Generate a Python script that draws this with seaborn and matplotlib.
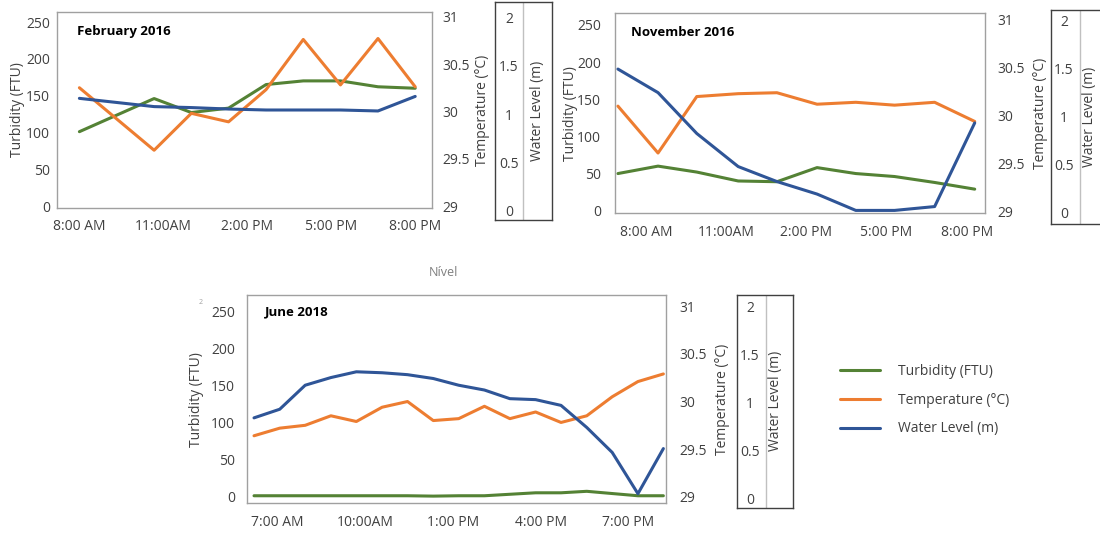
import numpy as np
import pandas as pd
import matplotlib
matplotlib.use("Agg")
import matplotlib.pyplot as plt
import seaborn as sns
from matplotlib.ticker import FuncFormatter

# ---------------- data ----------------
feb_hours = [8.0, 10.67, 12.0, 13.33, 14.67, 16.0, 17.33, 18.67, 20.0]
feb_turbidity = [101, 146, 127, 133, 165, 170, 170, 162, 160]
feb_temperature = [30.25, 29.59, 29.98, 29.89, 30.23, 30.76, 30.28, 30.77, 30.26]
feb_water_level = [1.16, 1.075, 1.065, 1.05, 1.04, 1.04, 1.04, 1.03, 1.18]

nov_hours = [6.95, 8.45, 9.9, 11.45, 12.9, 14.4, 15.85, 17.3, 18.8, 20.3]
nov_turbidity = [50, 60, 52, 40, 39, 58, 50, 46, 38, 29]
nov_temperature = [30.10, 29.61, 30.20, 30.23, 30.24, 30.12, 30.14, 30.11, 30.14, 29.94]
nov_water_level = [1.49, 1.245, 0.82, 0.476, 0.32, 0.19, 0.02, 0.02, 0.06, 0.93]

jun_hours = [6.2, 7.08, 7.95, 8.83, 9.7, 10.58, 11.45, 12.33, 13.2, 14.08,
             14.95, 15.83, 16.7, 17.58, 18.45, 19.33, 20.2]
jun_turbidity = [1, 1, 1, 1, 1, 1, 1, 0.5, 1, 1, 3, 5, 5, 7, 4, 1, 1]
jun_temperature = [29.64, 29.72, 29.75, 29.85, 29.79, 29.94, 30.0, 29.80, 29.82, 29.95,
                   29.82, 29.89, 29.78, 29.85, 30.05, 30.21, 30.29]
jun_water_level = [0.84, 0.93, 1.18, 1.26, 1.32, 1.31, 1.29, 1.25, 1.18, 1.13,
                   1.04, 1.03, 0.97, 0.74, 0.48, 0.05, 0.52]

ticks_a = [8, 11, 14, 17, 20]
labels_a = ["8:00 AM", "11:00AM", "2:00 PM", "5:00 PM", "8:00 PM"]
ticks_b = [7, 10, 13, 16, 19]
labels_b = ["7:00 AM", "10:00AM", "1:00 PM", "4:00 PM", "7:00 PM"]

turb_ticks = [0, 50, 100, 150, 200, 250]
temp_ticks = [29, 29.5, 30, 30.5, 31]
wl_ticks = [0, 0.5, 1, 1.5, 2]

series_names = ["Turbidity (FTU)", "Temperature (°C)", "Water Level (m)"]

# ---------------- style ----------------
sns.set_theme(style="white")
plt.rcParams["font.family"] = ["Open Sans", "DejaVu Sans"]
plt.rcParams["font.size"] = 10

GREEN = "#548235"
ORANGE = "#ED7D31"
BLUE = "#2F5597"
TXT = "#404040"
LW = 2.2

W, H = 1100, 537
fig = plt.figure(figsize=(W / 100, H / 100), dpi=100)
fig.patch.set_facecolor("white")


def px_axes(l, t, r, b):
    return fig.add_axes([l / W, 1 - b / H, (r - l) / W, (b - t) / H])


def pt(px):
    return px * 72 / 100


fmt = FuncFormatter(lambda v, p: f"{v:g}")


def draw_panel(hours, turb, temp, wl, xticks, xlabels, title, L):
    l, t, r, b = L["box"]
    ax = px_axes(l, t, r, b)
    df = pd.DataFrame({"hour": hours, "turb": turb, "temp": temp, "wl": wl})
    sns.lineplot(data=df, x="hour", y="turb", ax=ax, color=GREEN, lw=LW, label=series_names[0], legend=False)
    ax2 = ax.twinx()
    sns.lineplot(data=df, x="hour", y="temp", ax=ax2, color=ORANGE, lw=LW, label=series_names[1], legend=False)
    ax3 = ax.twinx()
    sns.lineplot(data=df, x="hour", y="wl", ax=ax3, color=BLUE, lw=LW, label=series_names[2], legend=False)

    ax.set_xlim(*L["xlim"])
    ax.set_ylim(*L["turb_lim"])
    ax2.set_ylim(*L["temp_lim"])
    ax3.set_ylim(*L["wl_lim"])

    ax.set_xticks(xticks)
    ax.set_xticklabels(xlabels)
    ax.set_yticks(turb_ticks)
    ax2.set_yticks(temp_ticks)
    ax2.yaxis.set_major_formatter(fmt)
    ax3.set_yticks([])
    ax.tick_params(axis="y", length=0, pad=pt(L["lpad"]), labelsize=10, labelcolor=TXT)
    ax.tick_params(axis="x", length=0, pad=pt(L["xpad"]), labelsize=10, labelcolor=TXT)
    ax2.tick_params(axis="y", length=0, pad=pt(L["rpad"]), labelsize=10, labelcolor=TXT)

    for s in ax.spines.values():
        s.set_color("#a0a0a0")
        s.set_linewidth(1.0)
    for a in (ax2, ax3):
        for s in a.spines.values():
            s.set_visible(False)
    ax.set_xlabel("")
    ax3.set_ylabel("")

    ax.set_ylabel(series_names[0], fontsize=10, color=TXT)
    ax.yaxis.set_label_coords((L["turb_lx"] - l) / (r - l), 0.5)
    ax.yaxis.label.set_va("center")
    ax2.set_ylabel(series_names[1], fontsize=10, color=TXT)
    ax2.yaxis.set_label_coords((L["temp_lx"] - l) / (r - l), 0.5)
    ax2.yaxis.label.set_va("center")

    fig.text(L["title"][0] / W, 1 - L["title"][1] / H, title, fontsize=9.5,
             fontweight="bold", color="black", ha="left", va="center")

    # separate water level scale box
    wl_, wt, wr, wb = L["wbox"]
    axw = px_axes(wl_, wt, wr, wb)
    axw.set_xlim(0, 1)
    axw.set_ylim(*L["wbox_lim"])
    axw.set_xticks([])
    axw.set_yticks(wl_ticks)
    axw.yaxis.set_major_formatter(fmt)
    axw.tick_params(axis="y", length=0, pad=-pt(L["wl_cx"] - wl_), labelsize=10, labelcolor=TXT)
    for tk in axw.yaxis.get_major_ticks():
        tk.label1.set_horizontalalignment("center")
    for s in axw.spines.values():
        s.set_color("#404040")
        s.set_linewidth(1.0)
    axw.axvline((L["winner"] - wl_) / (wr - wl_), color="#c0c0c0", lw=1.0)
    axw.set_ylabel(series_names[2], fontsize=10, color=TXT)
    axw.yaxis.set_label_coords((L["wl_lx"] - wl_) / (wr - wl_), 0.5)
    axw.yaxis.label.set_va("center")
    return ax, ax2, ax3


layout_feb = dict(box=(57, 12, 432, 208), xlim=(7.2, 20.6), turb_lim=(-2.7, 263.6),
                  temp_lim=(28.98, 31.05), wl_lim=(0.03, 2.05), lpad=7, rpad=10, xpad=11,
                  turb_lx=18, temp_lx=483, title=(77, 31),
                  wbox=(495, 2, 552, 220), wbox_lim=(-0.093, 2.155), winner=523,
                  wl_cx=509, wl_lx=537)
layout_nov = dict(box=(615, 13.3, 984.6, 213.3), xlim=(6.84, 20.67), turb_lim=(-3.5, 265.7),
                  temp_lim=(28.98, 31.07), wl_lim=(-0.01, 2.07), lpad=14, rpad=12.4, xpad=12,
                  turb_lx=571, temp_lx=1040, title=(631, 33),
                  wbox=(1051, 10, 1110, 224), wbox_lim=(-0.12, 2.104), winner=1080,
                  wl_cx=1064, wl_lx=1089)
layout_jun = dict(box=(246.7, 295, 666, 503.3), xlim=(5.95, 20.29), turb_lim=(-9.2, 272.3),
                  temp_lim=(28.93, 31.12), wl_lim=(-0.05, 2.12), lpad=11.7, rpad=13.3, xpad=12,
                  turb_lx=196, temp_lx=723, title=(265, 312),
                  wbox=(736.7, 295, 792.7, 507.7), wbox_lim=(-0.10, 2.12), winner=765.7,
                  wl_cx=750, wl_lx=775)

axes_feb = draw_panel(feb_hours, feb_turbidity, feb_temperature, feb_water_level,
                      ticks_a, labels_a, "February 2016", layout_feb)
draw_panel(nov_hours, nov_turbidity, nov_temperature, nov_water_level,
           ticks_a, labels_a, "November 2016", layout_nov)
draw_panel(jun_hours, jun_turbidity, jun_temperature, jun_water_level,
           ticks_b, labels_b, "June 2018", layout_jun)

# stray texts from the original figure
fig.text(443 / W, 1 - 272 / H, "Nível", fontsize=9, color="#7f7f7f", ha="center", va="center")
fig.text(201 / W, 1 - 302 / H, "2", fontsize=5, color="#a0a0a0", ha="center", va="center")

# legend
handles = [axes_feb[0].lines[0], axes_feb[1].lines[0], axes_feb[2].lines[0]]
fig.legend(handles, series_names, loc="center left", bbox_to_anchor=(840 / W, 1 - 400 / H),
           frameon=False, fontsize=10, handlelength=2.9, handletextpad=1.3,
           labelspacing=1.0, borderpad=0, borderaxespad=0, labelcolor=TXT)

fig.savefig("out.png", dpi=100, facecolor="white")
